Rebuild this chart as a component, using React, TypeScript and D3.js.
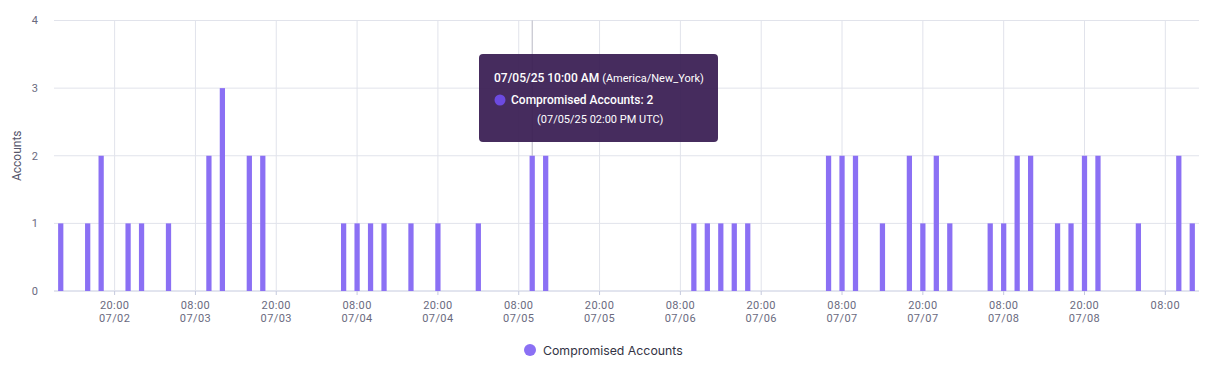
import React from "react";
import * as d3 from "d3";

const times: string[] = [
  "2025-07-02T12:00", "2025-07-02T16:00", "2025-07-02T18:00", "2025-07-02T22:00",
  "2025-07-03T00:00", "2025-07-03T04:00", "2025-07-03T10:00", "2025-07-03T12:00",
  "2025-07-03T16:00", "2025-07-03T18:00",
  "2025-07-04T06:00", "2025-07-04T08:00", "2025-07-04T10:00", "2025-07-04T12:00",
  "2025-07-04T16:00", "2025-07-04T20:00", "2025-07-05T02:00", "2025-07-05T10:00",
  "2025-07-05T12:00",
  "2025-07-06T10:00", "2025-07-06T12:00", "2025-07-06T14:00", "2025-07-06T16:00",
  "2025-07-06T18:00",
  "2025-07-07T06:00", "2025-07-07T08:00", "2025-07-07T10:00", "2025-07-07T14:00",
  "2025-07-07T18:00", "2025-07-07T20:00", "2025-07-07T22:00", "2025-07-08T00:00",
  "2025-07-08T06:00", "2025-07-08T08:00", "2025-07-08T10:00", "2025-07-08T12:00",
  "2025-07-08T16:00", "2025-07-08T18:00", "2025-07-08T20:00", "2025-07-08T22:00",
  "2025-07-09T04:00", "2025-07-09T10:00", "2025-07-09T12:00",
];
const values: number[] = [
  1, 1, 2, 1,
  1, 1, 2, 3,
  2, 2,
  1, 1, 1, 1,
  1, 1, 1, 2,
  2,
  1, 1, 1, 1,
  1,
  2, 2, 2, 1,
  2, 1, 2, 1,
  1, 1, 2, 2,
  1, 1, 2, 2,
  1, 2, 1,
];
const tickTimes: string[] = [
  "2025-07-02T20:00", "2025-07-03T08:00", "2025-07-03T20:00", "2025-07-04T08:00",
  "2025-07-04T20:00", "2025-07-05T08:00", "2025-07-05T20:00", "2025-07-06T08:00",
  "2025-07-06T20:00", "2025-07-07T08:00", "2025-07-07T20:00", "2025-07-08T08:00",
  "2025-07-08T20:00", "2025-07-09T08:00",
];
const tickDateLabels: string[] = [
  "07/02", "07/03", "07/03", "07/04", "07/04", "07/05", "07/05", "07/06",
  "07/06", "07/07", "07/07", "07/08", "07/08", "",
];
const yTicks: number[] = [0, 1, 2, 3, 4];
const domainStart = "2025-07-02T11:00";
const domainEnd = "2025-07-09T13:00";
const seriesName = "Compromised Accounts";
const hoverTime = "2025-07-05T10:00";

const W = 1217;
const H = 366;
const M = { left: 54, right: 18, top: 20.5, bottom: 75 };

const parse = (s: string) => new Date(s + ":00Z");

export default function App() {
  const x = d3.scaleUtc()
    .domain([parse(domainStart), parse(domainEnd)])
    .range([M.left, W - M.right]);
  const y = d3.scaleLinear().domain([0, 4]).range([H - M.bottom, M.top]);
  const barW = (x(parse("2025-07-02T13:00")) - x(parse("2025-07-02T11:00"))) * 0.39;
  const fmtT = d3.utcFormat("%H:%M");
  const font = "Roboto, 'Noto Sans', sans-serif";
  const hoverIdx = times.indexOf(hoverTime);
  const hx = x(parse(hoverTime));
  const gridColor = "#e1e3eb";

  const tipX = 479, tipY = 54, tipW = 239, tipH = 88;

  return (
    <svg width={W} height={H} style={{ position: "absolute", left: 0, top: 0, display: "block" }}
      fontFamily={font}>
      {yTicks.map((t) => (
        <line key={"hg" + t} x1={M.left} x2={W - M.right} y1={y(t)} y2={y(t)}
          stroke={t === 0 ? "#c5cade" : gridColor} strokeWidth={1} />
      ))}
      {tickTimes.map((t) => (
        <line key={"vg" + t} x1={x(parse(t))} x2={x(parse(t))} y1={M.top} y2={y(0)}
          stroke={gridColor} strokeWidth={1} />
      ))}
      <line x1={hx} x2={hx} y1={M.top} y2={y(values[hoverIdx])} stroke="#b8b8c4" strokeWidth={1} />
      {times.map((t, i) => (
        <rect key={"b" + t} x={x(parse(t)) - barW / 2} y={y(values[i])}
          width={barW} height={y(0) - y(values[i])} fill="#8b70f4" />
      ))}
      {yTicks.map((t) => (
        <text key={"yt" + t} x={38} y={y(t)} dy="0.35em" textAnchor="end"
          fontSize={11} fill="#6a6a7e">{t}</text>
      ))}
      {tickTimes.map((t, i) => {
        const d = parse(t);
        return (
          <g key={"xt" + t}>
            <line x1={x(d)} x2={x(d)} y1={y(0)} y2={y(0) + 4} stroke="#c5cade" />
            <text x={x(d)} y={309} textAnchor="middle" fontSize={11} fill="#6a6a7e"
              letterSpacing={0.4}>{fmtT(d)}</text>
            {tickDateLabels[i] && (
              <text x={x(d)} y={322} textAnchor="middle" fontSize={11} fill="#6a6a7e"
                letterSpacing={0.4}>{tickDateLabels[i]}</text>
            )}
          </g>
        );
      })}
      <text transform={`translate(21,${(M.top + y(0)) / 2}) rotate(-90)`} textAnchor="middle"
        fontSize={12} fill="#55556a">Accounts</text>
      <circle cx={530} cy={350} r={6} fill="#8b70f4" />
      <text x={543} y={355} fontSize={12.3} fill="#333344" fontFamily="Inter, Roboto, sans-serif">{seriesName}</text>
      <g>
        <rect x={tipX} y={tipY} width={tipW} height={tipH} rx={4} fill="#381c52" fillOpacity={0.93} />
        <text x={494} y={82} fill="#ffffff">
          <tspan fontSize={12} fontWeight={500}>07/05/25 10:00 AM </tspan>
          <tspan fontSize={11}>(America/New_York)</tspan>
        </text>
        <circle cx={500} cy={100} r={5.5} fill="#6c4ae0" />
        <text x={511} y={104} fontSize={12} fontWeight={500} fill="#ffffff">{seriesName}: {values[hoverIdx]}</text>
        <text x={537} y={123} fontSize={11} fill="#ffffff">(07/05/25 02:00 PM UTC)</text>
      </g>
    </svg>
  );
}
